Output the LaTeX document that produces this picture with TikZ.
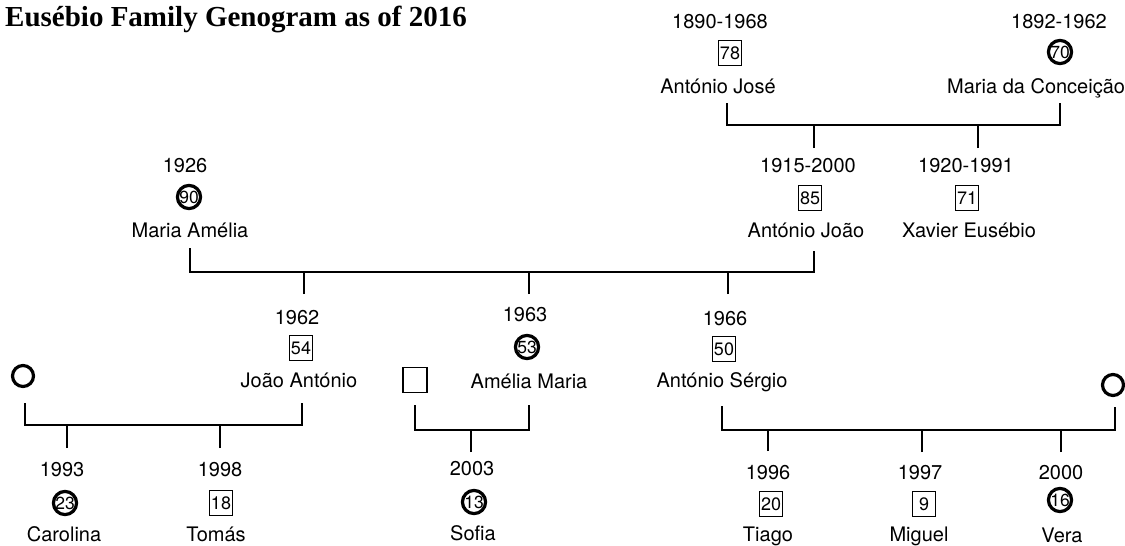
\documentclass[tikz,border=0pt]{standalone}
\usepackage{fontspec}
\setmainfont{Liberation Serif}
\newfontfamily\labfont{TeX Gyre Heros}
\begin{document}
\begin{tikzpicture}[x=1pt,y=-1pt,
  lbl/.style={font=\labfont\fontsize{20}{21}\selectfont, anchor=base, inner sep=0pt},
  malebox/.style={draw, line width=1.2pt, minimum width=23pt, minimum height=25pt, inner sep=0pt, font=\labfont\fontsize{18}{18}\selectfont},
  femcirc/.style={circle, draw, line width=3.2pt, minimum size=22pt, inner sep=0pt, font=\labfont\fontsize{17.5}{18}\selectfont},
  conn/.style={line width=1.4pt}]
\useasboundingbox (0,0) rectangle (1125,546);
\fill[white] (0,0) rectangle (1125,546);

\node[anchor=base west, inner sep=0pt, font=\bfseries\fontsize{29}{30}\selectfont] (title) at (5,26) {Eusébio Family Genogram as of 2016};

% ---- generation 1
\node[lbl] (ajD) at (720,28) {1890-1968};
\node[malebox] (ajS) at (730,53) {78};
\node[lbl] (ajN) at (718,93) {António José};

\node[lbl] (mcD) at (1059,28) {1892-1962};
\node[femcirc] (mcS) at (1060,52) {70};
\node[lbl, anchor=base west] (mcN) at (947,93) {Maria da Conceição};

% ---- generation 2
\node[lbl] (ma26D) at (185,172) {1926};
\node[femcirc] (ma26S) at (189,197) {90};
\node[lbl] (ma26N) at (190,237) {Maria Amélia};

\node[lbl] (ajoD) at (808,172) {1915-2000};
\node[malebox] (ajoS) at (810,198) {85};
\node[lbl] (ajoN) at (806,237) {António João};

\node[lbl] (xeD) at (966,172) {1920-1991};
\node[malebox] (xeS) at (967,198) {71};
\node[lbl] (xeN) at (969,237) {Xavier Eusébio};

% ---- generation 3
\node[lbl] (jaD) at (297,324) {1962};
\node[malebox] (jaS) at (301,348) {54};
\node[lbl] (jaN) at (299,387) {João António};

\node[lbl] (amD) at (525,321) {1963};
\node[femcirc] (amS) at (527,347) {53};
\node[lbl] (amN) at (529,388) {Amélia Maria};

\node[lbl] (asD) at (725,325) {1966};
\node[malebox] (asS) at (724,349) {50};
\node[lbl] (asN) at (722,387) {António Sérgio};

\node[femcirc, minimum size=21pt] (sp1) at (23,376) {};
\node[draw, line width=1.2pt, minimum width=24pt, minimum height=25pt, inner sep=0pt] (sp2) at (415,380) {};
\node[femcirc, minimum size=21pt] (sp3) at (1113,385) {};

% ---- generation 4
\node[lbl] (caD) at (62,476) {1993};
\node[femcirc] (caS) at (65,503) {23};
\node[lbl] (caN) at (64,541) {Carolina};

\node[lbl] (toD) at (220,476) {1998};
\node[malebox] (toS) at (221,503) {18};
\node[lbl] (toN) at (216,541) {Tomás};

\node[lbl] (soD) at (472,475) {2003};
\node[femcirc] (soS) at (474,502) {13};
\node[lbl] (soN) at (473,540) {Sofia};

\node[lbl] (tiD) at (768,479) {1996};
\node[malebox] (tiS) at (771,504) {20};
\node[lbl] (tiN) at (768,541) {Tiago};

\node[lbl] (miD) at (920,479) {1997};
\node[malebox] (miS) at (924,504) {9};
\node[lbl] (miN) at (919,541) {Miguel};

\node[lbl] (veD) at (1061,479) {2000};
\node[femcirc] (veS) at (1060,500) {16};
\node[lbl] (veN) at (1062,542) {Vera};

% ---- connectors
% marriage 1
\coordinate (a1) at (727,103); \coordinate (b1) at (1060,103); \coordinate (h1) at (0,125);
\draw[conn] (a1) -- (a1 |- h1) -- (b1 |- h1) -- (b1);
\coordinate (c1a) at (814,148); \coordinate (c1b) at (978,148);
\draw[conn] (c1a) -- (c1a |- h1);
\draw[conn] (c1b) -- (c1b |- h1);
% marriage 2
\coordinate (a2) at (190,248); \coordinate (b2) at (814,251); \coordinate (h2) at (0,272);
\draw[conn] (a2) -- (a2 |- h2) -- (b2 |- h2) -- (b2);
\coordinate (c2a) at (304,294); \coordinate (c2b) at (529,294); \coordinate (c2c) at (728,294);
\draw[conn] (c2a) -- (c2a |- h2);
\draw[conn] (c2b) -- (c2b |- h2);
\draw[conn] (c2c) -- (c2c |- h2);
% marriage 3
\coordinate (a3) at (25,403); \coordinate (b3) at (302,403); \coordinate (h3) at (0,425);
\draw[conn] (a3) -- (a3 |- h3) -- (b3 |- h3) -- (b3);
\coordinate (c3a) at (67,448); \coordinate (c3b) at (220,448);
\draw[conn] (c3a) -- (c3a |- h3);
\draw[conn] (c3b) -- (c3b |- h3);
% marriage 4
\coordinate (a4) at (415,405); \coordinate (b4) at (529,405); \coordinate (h4) at (0,430);
\draw[conn] (a4) -- (a4 |- h4) -- (b4 |- h4) -- (b4);
\coordinate (c4a) at (471,452);
\draw[conn] (c4a) -- (c4a |- h4);
% marriage 5
\coordinate (a5) at (722,406); \coordinate (b5) at (1115,407); \coordinate (h5) at (0,430);
\draw[conn] (a5) -- (a5 |- h5) -- (b5 |- h5) -- (b5);
\coordinate (c5a) at (768,451); \coordinate (c5b) at (922,452); \coordinate (c5c) at (1061,452);
\draw[conn] (c5a) -- (c5a |- h5);
\draw[conn] (c5b) -- (c5b |- h5);
\draw[conn] (c5c) -- (c5c |- h5);
\end{tikzpicture}
\end{document}
